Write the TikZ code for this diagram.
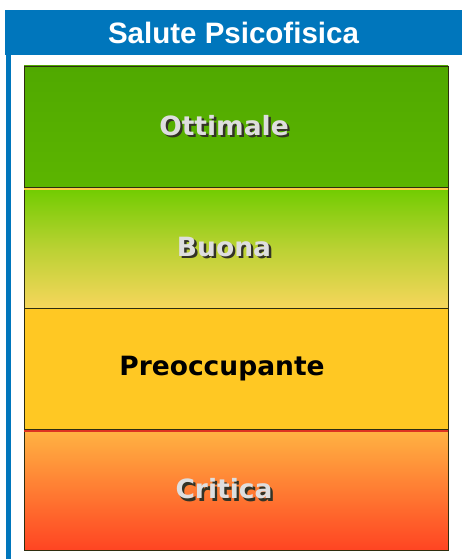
\documentclass[tikz,border=0pt]{standalone}
\usepackage{fontspec}
\setmainfont{DejaVu Sans}
\newfontfamily\titlefont{Liberation Sans}
\usepackage{tikz}

\definecolor{headblue}{HTML}{0076BC}
\definecolor{boxline}{HTML}{2E2E10}
\definecolor{pale}{HTML}{DEDEDE}
\definecolor{shade}{HTML}{333326}
\definecolor{deepgreen}{HTML}{50A900}
\definecolor{goodgreen}{HTML}{5CB500}
\definecolor{limegreen}{HTML}{70CC00}
\definecolor{sand}{HTML}{F6D65C}
\definecolor{amber}{HTML}{FFC823}
\definecolor{apricot}{HTML}{FFB443}
\definecolor{tomato}{HTML}{FF4422}
\definecolor{sunline}{HTML}{FFCC44}
\definecolor{redline}{HTML}{DD3322}

% light text with a dark drop shadow, set a little left of centre
\newcommand{\embossed}[1]{\raisebox{-2pt}{\makebox[0pt][l]{\hspace{2.4pt}\raisebox{-2.4pt}{\textcolor{shade}{#1}}}\textcolor{pale}{#1}}\hspace*{24pt}}

\begin{document}
\begin{tikzpicture}[x=1pt, y=-1pt]
                \useasboundingbox (0,0) rectangle (462,559);
                % frame
                \fill[headblue] (6,55) rectangle (11,559);
                \node [fill=headblue, minimum width=457, minimum height=45, inner sep=0, text=white,
                       font=\titlefont\bfseries\fontsize{29.5}{30}\selectfont] (title) at (233.5,33) {Salute Psicofisica};

                \begin{scope}[every node/.style={draw=boxline, line width=0.9pt, rectangle, minimum width=424,
                              minimum height=121, inner sep=0, font=\bfseries\fontsize{26.5}{28}\selectfont}]
                        \node [top color=deepgreen, bottom color=goodgreen] (ott) at (236,126.5) {\embossed{Ottimale}};
                        \node [top color=limegreen, bottom color=sand, middle color=limegreen!45!sand] (buo) at (236,248) {\embossed{Buona}};
                        \node [fill=amber, text=black] (pre) at (236,369) {\raisebox{-1pt}{Preoccupante}\hspace*{28pt}};
                        \node [top color=apricot, bottom color=tomato] (cri) at (236,490) {\embossed{Critica}};
                \end{scope}

                \begin{scope}[every path/.style={line width=1.6pt}]
                        \draw[sunline] ([yshift=-2pt, xshift=0.5pt]buo.north west) -- ([yshift=-2pt, xshift=-0.5pt]buo.north east);
                        \draw[redline] ([yshift=-1.8pt, xshift=0.5pt]cri.north west) -- ([yshift=-1.8pt, xshift=-0.5pt]cri.north east);
                \end{scope}
        \end{tikzpicture}
\end{document}
